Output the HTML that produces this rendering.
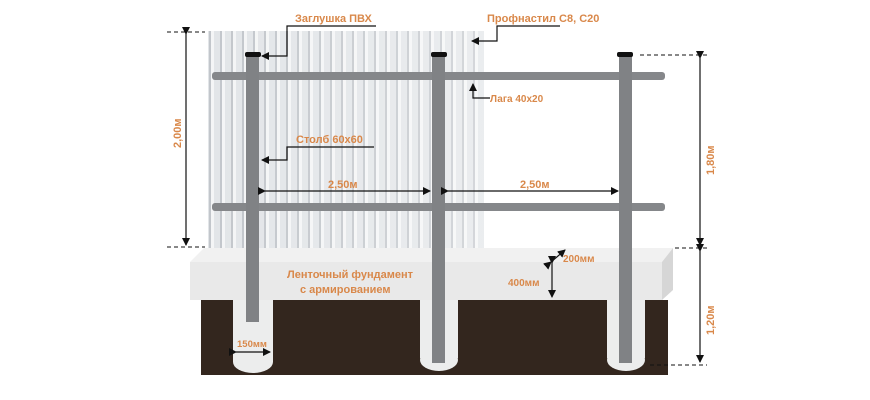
<!DOCTYPE html>
<html><head><meta charset="utf-8"><style>
html,body{margin:0;padding:0;background:#fff;}
svg{display:block}
text{font-family:"Liberation Sans","DejaVu Sans",sans-serif;font-weight:bold;fill:#d9884a;}
</style></head><body>
<svg width="870" height="400" viewBox="0 0 870 400" xmlns="http://www.w3.org/2000/svg">
<defs>
<pattern id="corr" width="11" height="10" patternUnits="userSpaceOnUse">
<rect width="11" height="10" fill="#e2e5e8"/>
<rect x="0" width="2" height="10" fill="#c2c6cb"/>
<rect x="2" width="3" height="10" fill="#f4f5f6"/>
</pattern>
<linearGradient id="sheetfade" x1="0" x2="1">
<stop offset="0" stop-color="#fff" stop-opacity="0"/>
<stop offset="1" stop-color="#fff" stop-opacity="0.3"/>
</linearGradient>
<marker id="ah" markerWidth="8" markerHeight="8" refX="7" refY="4" orient="auto" markerUnits="userSpaceOnUse">
<path d="M0,0 L8,4 L0,8 Z" fill="#111"/></marker>
</defs>
<rect x="208" y="31" width="276" height="217" fill="url(#corr)"/>
<rect x="208" y="31" width="276" height="217" fill="url(#sheetfade)"/>
<rect x="201" y="300" width="467" height="75" fill="#33261e"/>
<rect x="233" y="296" width="40" height="66" fill="#eceded"/><ellipse cx="253" cy="362" rx="20" ry="11" fill="#eceded"/>
<rect x="420" y="296" width="38" height="62" fill="#eceded"/><ellipse cx="439" cy="360" rx="19" ry="11" fill="#eceded"/>
<rect x="607" y="296" width="38" height="62" fill="#eceded"/><ellipse cx="626" cy="360" rx="19" ry="11" fill="#eceded"/>
<polygon points="190,262 204,248 673,248 662,262" fill="#f1f1f1"/>
<polygon points="662,262 673,248 673,290 662,300" fill="#d6d6d6"/>
<rect x="190" y="262" width="472" height="38" fill="#e9e9e9"/>
<rect x="212" y="72" width="453" height="8" rx="3" fill="#85878a"/>
<rect x="212" y="203" width="453" height="8" rx="3" fill="#85878a"/>
<rect x="246" y="55" width="13" height="267" fill="#808285"/>
<rect x="432" y="55" width="13" height="308" fill="#808285"/>
<rect x="619" y="55" width="13" height="308" fill="#808285"/>
<rect x="245" y="52" width="16" height="5" rx="2" fill="#111"/>
<rect x="431" y="52" width="16" height="5" rx="2" fill="#111"/>
<rect x="617" y="52" width="16" height="5" rx="2" fill="#111"/>
<g stroke="#111" stroke-width="1.2" fill="none">
<polyline points="376,26 287,26 287,56 262,56" marker-end="url(#ah)"/>
<polyline points="560,26 497,26 497,41 472,41" marker-end="url(#ah)"/>
<polyline points="490,98 473,98 473,84" marker-end="url(#ah)"/>
<polyline points="374,147 287,147 287,160 262,160" marker-end="url(#ah)"/>
<line x1="265" y1="191" x2="430" y2="191" marker-end="url(#ah)" marker-start="url(#ah)"/>
<line x1="448" y1="191" x2="618" y2="191" marker-end="url(#ah)" marker-start="url(#ah)"/>
<line x1="186" y1="34" x2="186" y2="245" marker-end="url(#ah)" marker-start="url(#ah)"/>
<line x1="700" y1="58" x2="700" y2="245" marker-end="url(#ah)" marker-start="url(#ah)"/>
<line x1="700" y1="251" x2="700" y2="362" marker-end="url(#ah)" marker-start="url(#ah)"/>
<line x1="551" y1="262" x2="565" y2="250" marker-end="url(#ah)" marker-start="url(#ah)"/>
<line x1="552" y1="263" x2="552" y2="297" marker-end="url(#ah)" marker-start="url(#ah)"/>
<line x1="236" y1="352" x2="270" y2="352" marker-end="url(#ah)" marker-start="url(#ah)"/>
</g>
<g stroke="#111" stroke-width="1" stroke-dasharray="4,3">
<line x1="167" y1="32" x2="205" y2="32"/>
<line x1="167" y1="247" x2="205" y2="247"/>
<line x1="640" y1="55" x2="707" y2="55"/>
<line x1="675" y1="248" x2="707" y2="248"/>
<line x1="650" y1="365" x2="707" y2="365"/>
</g>
<text x="295" y="22" font-size="11">Заглушка ПВХ</text>
<text x="487" y="22" font-size="11">Профнастил С8, С20</text>
<text x="490" y="102" font-size="10">Лага 40х20</text>
<text x="296" y="143" font-size="11">Столб 60х60</text>
<text x="328" y="188" font-size="11">2,50м</text>
<text x="520" y="188" font-size="11">2,50м</text>
<text x="563" y="262" font-size="10">200мм</text>
<text x="508" y="286" font-size="10">400мм</text>
<text x="287" y="278" font-size="11">Ленточный фундамент</text>
<text x="300" y="293" font-size="11">с армированием</text>
<text x="237" y="347" font-size="9.5">150мм</text>
<text font-size="11" transform="translate(181,148) rotate(-90)">2,00м</text>
<text font-size="11" transform="translate(714,175) rotate(-90)">1,80м</text>
<text font-size="11" transform="translate(714,335) rotate(-90)">1,20м</text>
</svg>
</body></html>
